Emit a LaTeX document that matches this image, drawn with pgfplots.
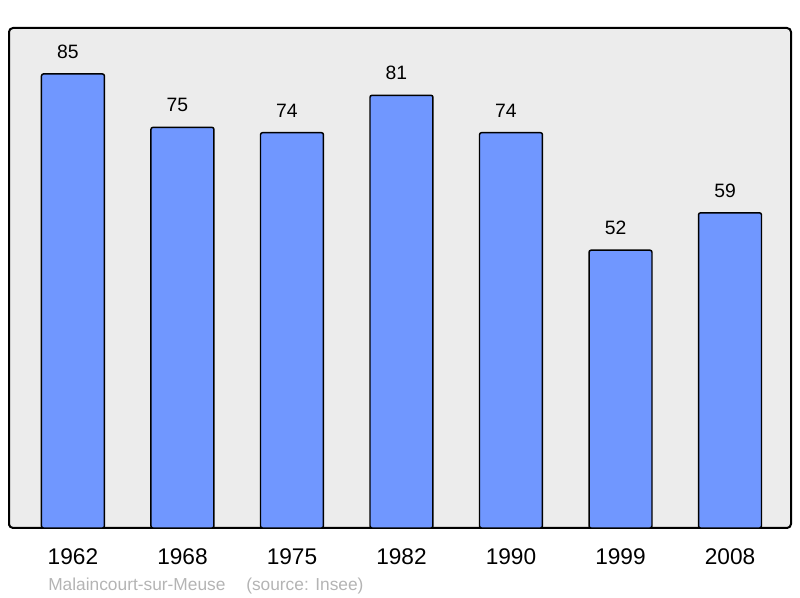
\documentclass[border=0pt]{standalone}
\usepackage{fontspec}
\setmainfont{Liberation Sans}
\usepackage{pgfplots}
\pgfplotsset{compat=1.18}
\definecolor{barcol}{HTML}{7097FF}
\definecolor{bgcol}{HTML}{ECECEC}
\definecolor{srccol}{HTML}{B4B4B4}
\begin{document}
\begin{tikzpicture}
\useasboundingbox (-6.75pt,-52.5pt) rectangle (593.25pt,396pt);
\begin{axis}[
  at={(0pt,0pt)}, anchor=south west,
  scale only axis,
  width=586.5pt, height=375pt,
  xmin=-0.584, xmax=6.557,
  ymin=0, ymax=93.6,
  ybar, bar width=0.575,
  xtick={0,1,2,3,4,5,6},
  xticklabels={1962,1968,1975,1982,1990,1999,2008},
  ytick=\empty,
  major tick length=0pt,
  xticklabel style={anchor=center, yshift=-21.5pt, font=\fontsize{17pt}{19pt}\selectfont},
  axis line style={line width=1.5pt, rounded corners=3pt},
  axis background/.style={fill=bgcol, rounded corners=3pt},
  /pgf/number format/assume math mode=true,
  nodes near coords,
  every node near coord/.append style={anchor=center, yshift=16.5pt, xshift=-3.75pt, font=\fontsize{14.5pt}{16pt}\selectfont, text=black},
]
\addplot[fill=barcol, draw=black, line width=1.1pt, rounded corners=1.5pt] coordinates {
(0,85) (1,75) (2,74) (3,81) (4,74) (5,52) (6,59)
};
\end{axis}
\node[anchor=west, text=srccol, font=\fontsize{13pt}{15pt}\selectfont, inner sep=0pt] at (29.25pt,-43.5pt) {Malaincourt-sur-Meuse\hspace{1.2em}(source: Insee)};
\end{tikzpicture}
\end{document}
